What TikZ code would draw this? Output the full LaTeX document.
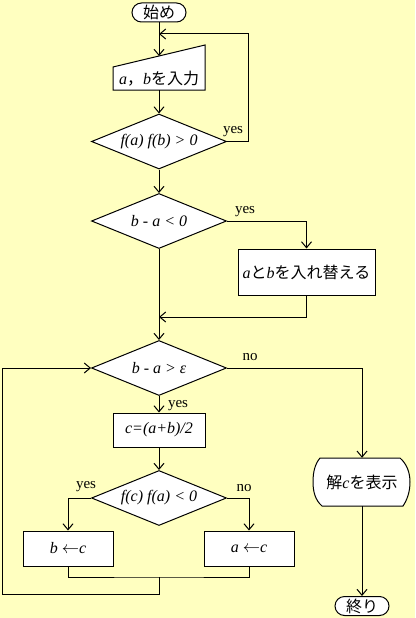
\documentclass[tikz,border=0pt]{standalone}
\usepackage{fontspec}
\setmainfont{Liberation Serif}
\newfontfamily\jpfont{Noto Sans CJK JP}
\usetikzlibrary{arrows.meta, shapes.geometric, shapes.misc, calc}
\definecolor{bgyellow}{RGB}{255,255,192}
\newcommand{\jp}[1]{{\jpfont #1}}

\tikzset{
  base/.style={draw, fill=white, line width=1pt, font=\fontsize{16}{18}\selectfont, inner sep=2pt},
  terminal/.style={base, rounded rectangle, minimum width=56pt, minimum height=19pt, inner sep=1pt},
  procbox/.style={base, rectangle, minimum width=92pt, minimum height=35pt},
  decision/.style={base, diamond, aspect=2.45, minimum width=135pt, minimum height=55pt, inner sep=0pt},
  flow/.style={-{Straight Barb[length=6pt,width=10pt]}, line width=1pt},
  line/.style={line width=1pt},
  lbl/.style={font=\fontsize{15}{17}\selectfont, inner sep=0pt}
}

\begin{document}
\begin{tikzpicture}[x=1pt, y=-1pt]
	\fill[bgyellow] (0,0) rectangle (415,618);
	\useasboundingbox (0,0) rectangle (415,618);
	% manual input box
	\coordinate (inSW) at (113,90);
	\coordinate (inSE) at (205,90);
	\coordinate (inNE) at (205,45);
	\coordinate (inNW) at (113,67);
	\coordinate (inTop) at ($(inNW)!0.5!(inNE)$);
	\draw[base] (inSW) -- (inSE) -- (inNE) -- (inNW) -- cycle;
	% display shape
	\draw[base] (320,458) -- (400,458) .. controls (407,464) and (410,473) .. (410,482)
		.. controls (410,492) and (407,500) .. (403,506) -- (322,506)
		.. controls (315,500) and (313,491) .. (313,482)
		.. controls (313,472) and (315,464) .. (320,458) -- cycle;

	\node[terminal] (start) at (159,12.5) {\jp{始め}};
	\node[font=\fontsize{16}{18}\selectfont, inner sep=0pt] (input) at (159,79) {\textit{a}\jp{，}\textit{b}\jp{を入力}};
	\node[decision] (test1) at (159,141.5) {\textit{f(a) f(b) > 0}};
	\node[decision] (test2) at (159,221) {\textit{b - a < 0}};
	\node[procbox, minimum width=137pt, minimum height=46pt] (swap) at (306.5,272) {\textit{a}\jp{と}\textit{b}\jp{を入れ替える}};
	\node[decision] (test3) at (159,368) {\textit{b - a > ε}};
	\node[procbox, minimum height=34pt] (mid) at (159,430) {\textit{c=(a+b)/2}};
	\node[decision] (test4) at (159,498) {\textit{f(c) f(a) < 0}};
	\node[procbox, minimum width=90pt] (setb) at (68,548.5) {\textit{b} $\leftarrow$\textit{c}};
	\node[procbox, minimum width=90pt] (seta) at (249,548.5) {\textit{a} $\leftarrow$\textit{c}};
	\node[font=\fontsize{16}{18}\selectfont, minimum width=90pt, minimum height=48pt, inner sep=0pt] (disp) at (362,482) {\jp{解}\textit{c}\jp{を表示}};
	\node[terminal] (stop) at (362,606) {\jp{終り}};

	\coordinate (join1) at (159,34);
	\coordinate (loop1) at (248,34);
	\coordinate (join2) at (159,317);
	\coordinate (join3) at (159,577);
	\coordinate (back) at (2,594);

	\draw[line] (start.south) -- (join1);
	\draw[flow] (join1) -- (inTop);
	\draw[flow] (inSE -| input) -- (test1.north);
	\draw[flow] (test1.east) -| (loop1) -- (join1);
	\draw[flow] (test1.south) -- (test2.north);
	\draw[flow] (test2.east) -| (swap.north);
	\draw[flow] (swap.south) |- (join2);
	\draw[line] (test2.south) -- (join2);
	\draw[flow] (join2) -- (test3.north);
	\draw[flow] (test3.east) -| (disp.north);
	\draw[flow] (test3.south) -- (mid.north);
	\draw[flow] (mid.south) -- (test4.north);
	\draw[flow] (test4.west) -| (setb.north);
	\draw[flow] (test4.east) -| (seta.north);
	\draw[line] (setb.south) |- (join3) -| (seta.south);
	\draw[flow] (join3) |- (back) |- (test3.west);
	\draw[flow] (disp.south) -- (stop.north);

	\node[lbl] at (233,132) {yes};
	\node[lbl] at (245,212) {yes};
	\node[lbl] at (250,357) {no};
	\node[lbl] at (178,406) {yes};
	\node[lbl] at (86,487) {yes};
	\node[lbl] at (244,488) {no};
\end{tikzpicture}
\end{document}
